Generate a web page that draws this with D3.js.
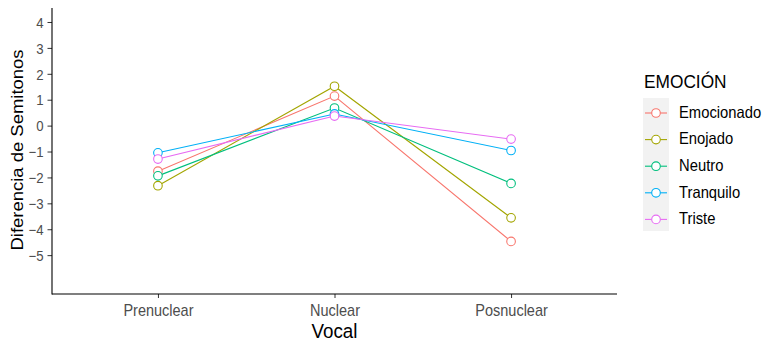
<!DOCTYPE html>
<html><head><meta charset="utf-8">
<script src="https://cdn.jsdelivr.net/npm/d3@7"></script>
<style>body{margin:0;background:#fff}svg{display:block;font-family:"Liberation Sans",Arial,sans-serif}</style>
</head><body><svg id="c" width="780" height="349"></svg>
<script>
const categories = ["Prenuclear","Nuclear","Posnuclear"];
const seriesNames = ["Emocionado","Enojado","Neutro","Tranquilo","Triste"];
const colors = ["#F8766D","#A3A500","#00BF7D","#00B0F6","#E76BF3"];
const emocionado = [-1.76, 1.14, -4.47];
const enojado = [-2.32, 1.52, -3.56];
const neutro = [-1.94, 0.68, -2.23];
const tranquilo = [-1.05, 0.45, -0.96];
const triste = [-1.29, 0.37, -0.52];
const yTicks = [-5,-4,-3,-2,-1,0,1,2,3,4];
const seriesValues = [emocionado, enojado, neutro, tranquilo, triste];

const svg = d3.select("#c");
const pL = 52, pR = 617, pT = 8, pB = 294;
const SY = 1.1; // vertical text stretch seen in the reference
const FONT = "Liberation Sans, Arial, sans-serif";
const x = d3.scalePoint().domain(categories).range([pL, pR]).padding(0.6);
const y = d3.scaleLinear().domain([-6.5, 4.54]).range([pB, pT]);

function stretch(sel){
  sel.each(function(){
    const t = d3.select(this);
    const tx = +t.attr("x") || 0, ty = +t.attr("y") || 0;
    t.attr("x",0).attr("y",0).attr("transform",`translate(${tx},${ty}) scale(1,${SY})`);
  });
}

// axes
const yAxis = svg.append("g").attr("transform", `translate(${pL},0)`)
  .call(d3.axisLeft(y).tickValues(yTicks).tickSize(4.5).tickPadding(4).tickFormat(d3.format("d")));
yAxis.select(".domain").remove();
yAxis.selectAll(".tick line").attr("stroke","#333").attr("stroke-width",1);
yAxis.selectAll(".tick text").attr("fill","#4d4d4d").attr("font-size",13.2).attr("font-family",FONT).attr("dy","0.36em");
stretch(yAxis.selectAll(".tick text"));

const xAxis = svg.append("g").attr("transform", `translate(0,${pB})`)
  .call(d3.axisBottom(x).tickSize(4).tickPadding(5));
xAxis.select(".domain").remove();
xAxis.selectAll(".tick line").attr("stroke","#333").attr("stroke-width",1);
xAxis.selectAll(".tick text").attr("fill","#4d4d4d").attr("font-size",14.5).attr("font-family",FONT)
  .attr("y",22).attr("dy","0");
stretch(xAxis.selectAll(".tick text"));

svg.append("line").attr("x1",pL).attr("x2",pL).attr("y1",pT).attr("y2",pB+0.5).attr("stroke","#000").attr("stroke-width",1.1);
svg.append("line").attr("x1",pL).attr("x2",pR).attr("y1",pB).attr("y2",pB).attr("stroke","#000").attr("stroke-width",1.1);

// lines
const line = d3.line().x((d,i)=>x(categories[i])).y(d=>y(d));
seriesValues.forEach((vals,k)=>{
  svg.append("path").datum(vals).attr("d",line).attr("fill","none").attr("stroke",colors[k]).attr("stroke-width",1.1);
});
seriesValues.forEach((vals,k)=>{
  svg.append("g").selectAll("circle").data(vals).join("circle")
    .attr("cx",(d,i)=>x(categories[i])).attr("cy",d=>y(d)).attr("r",4.3)
    .attr("fill","#fff").attr("stroke",colors[k]).attr("stroke-width",1.1);
});

// titles
svg.append("text").attr("transform",`translate(${(pL+pR)/2},338) scale(1,${SY})`).attr("text-anchor","middle")
  .attr("font-size",18.8).attr("fill","#000").text("Vocal");
svg.append("text").attr("transform",`translate(23.3,150) scale(1,${SY}) rotate(-90)`).attr("text-anchor","middle")
  .attr("font-size",16.8).attr("fill","#000").text("Diferencia de Semitonos");

// legend
const lg = svg.append("g");
lg.append("text").attr("transform",`translate(644,88.3) scale(1,${SY})`).attr("font-size",17.3).attr("fill","#000").text("EMOCIÓN");
lg.append("rect").attr("x",643).attr("y",98).attr("width",26).attr("height",133).attr("fill","#f2f2f2");
seriesNames.forEach((s,k)=>{
  const cy = 113 + k*26.6;
  lg.append("line").attr("x1",645).attr("x2",667).attr("y1",cy).attr("y2",cy).attr("stroke",colors[k]).attr("stroke-width",1.1);
  lg.append("circle").attr("cx",656).attr("cy",cy).attr("r",4.3).attr("fill","#fff").attr("stroke",colors[k]).attr("stroke-width",1.1);
  lg.append("text").attr("transform",`translate(679,${cy+4.8}) scale(1,${SY})`).attr("font-size",14.8).attr("fill","#000").text(s);
});
</script></body></html>
